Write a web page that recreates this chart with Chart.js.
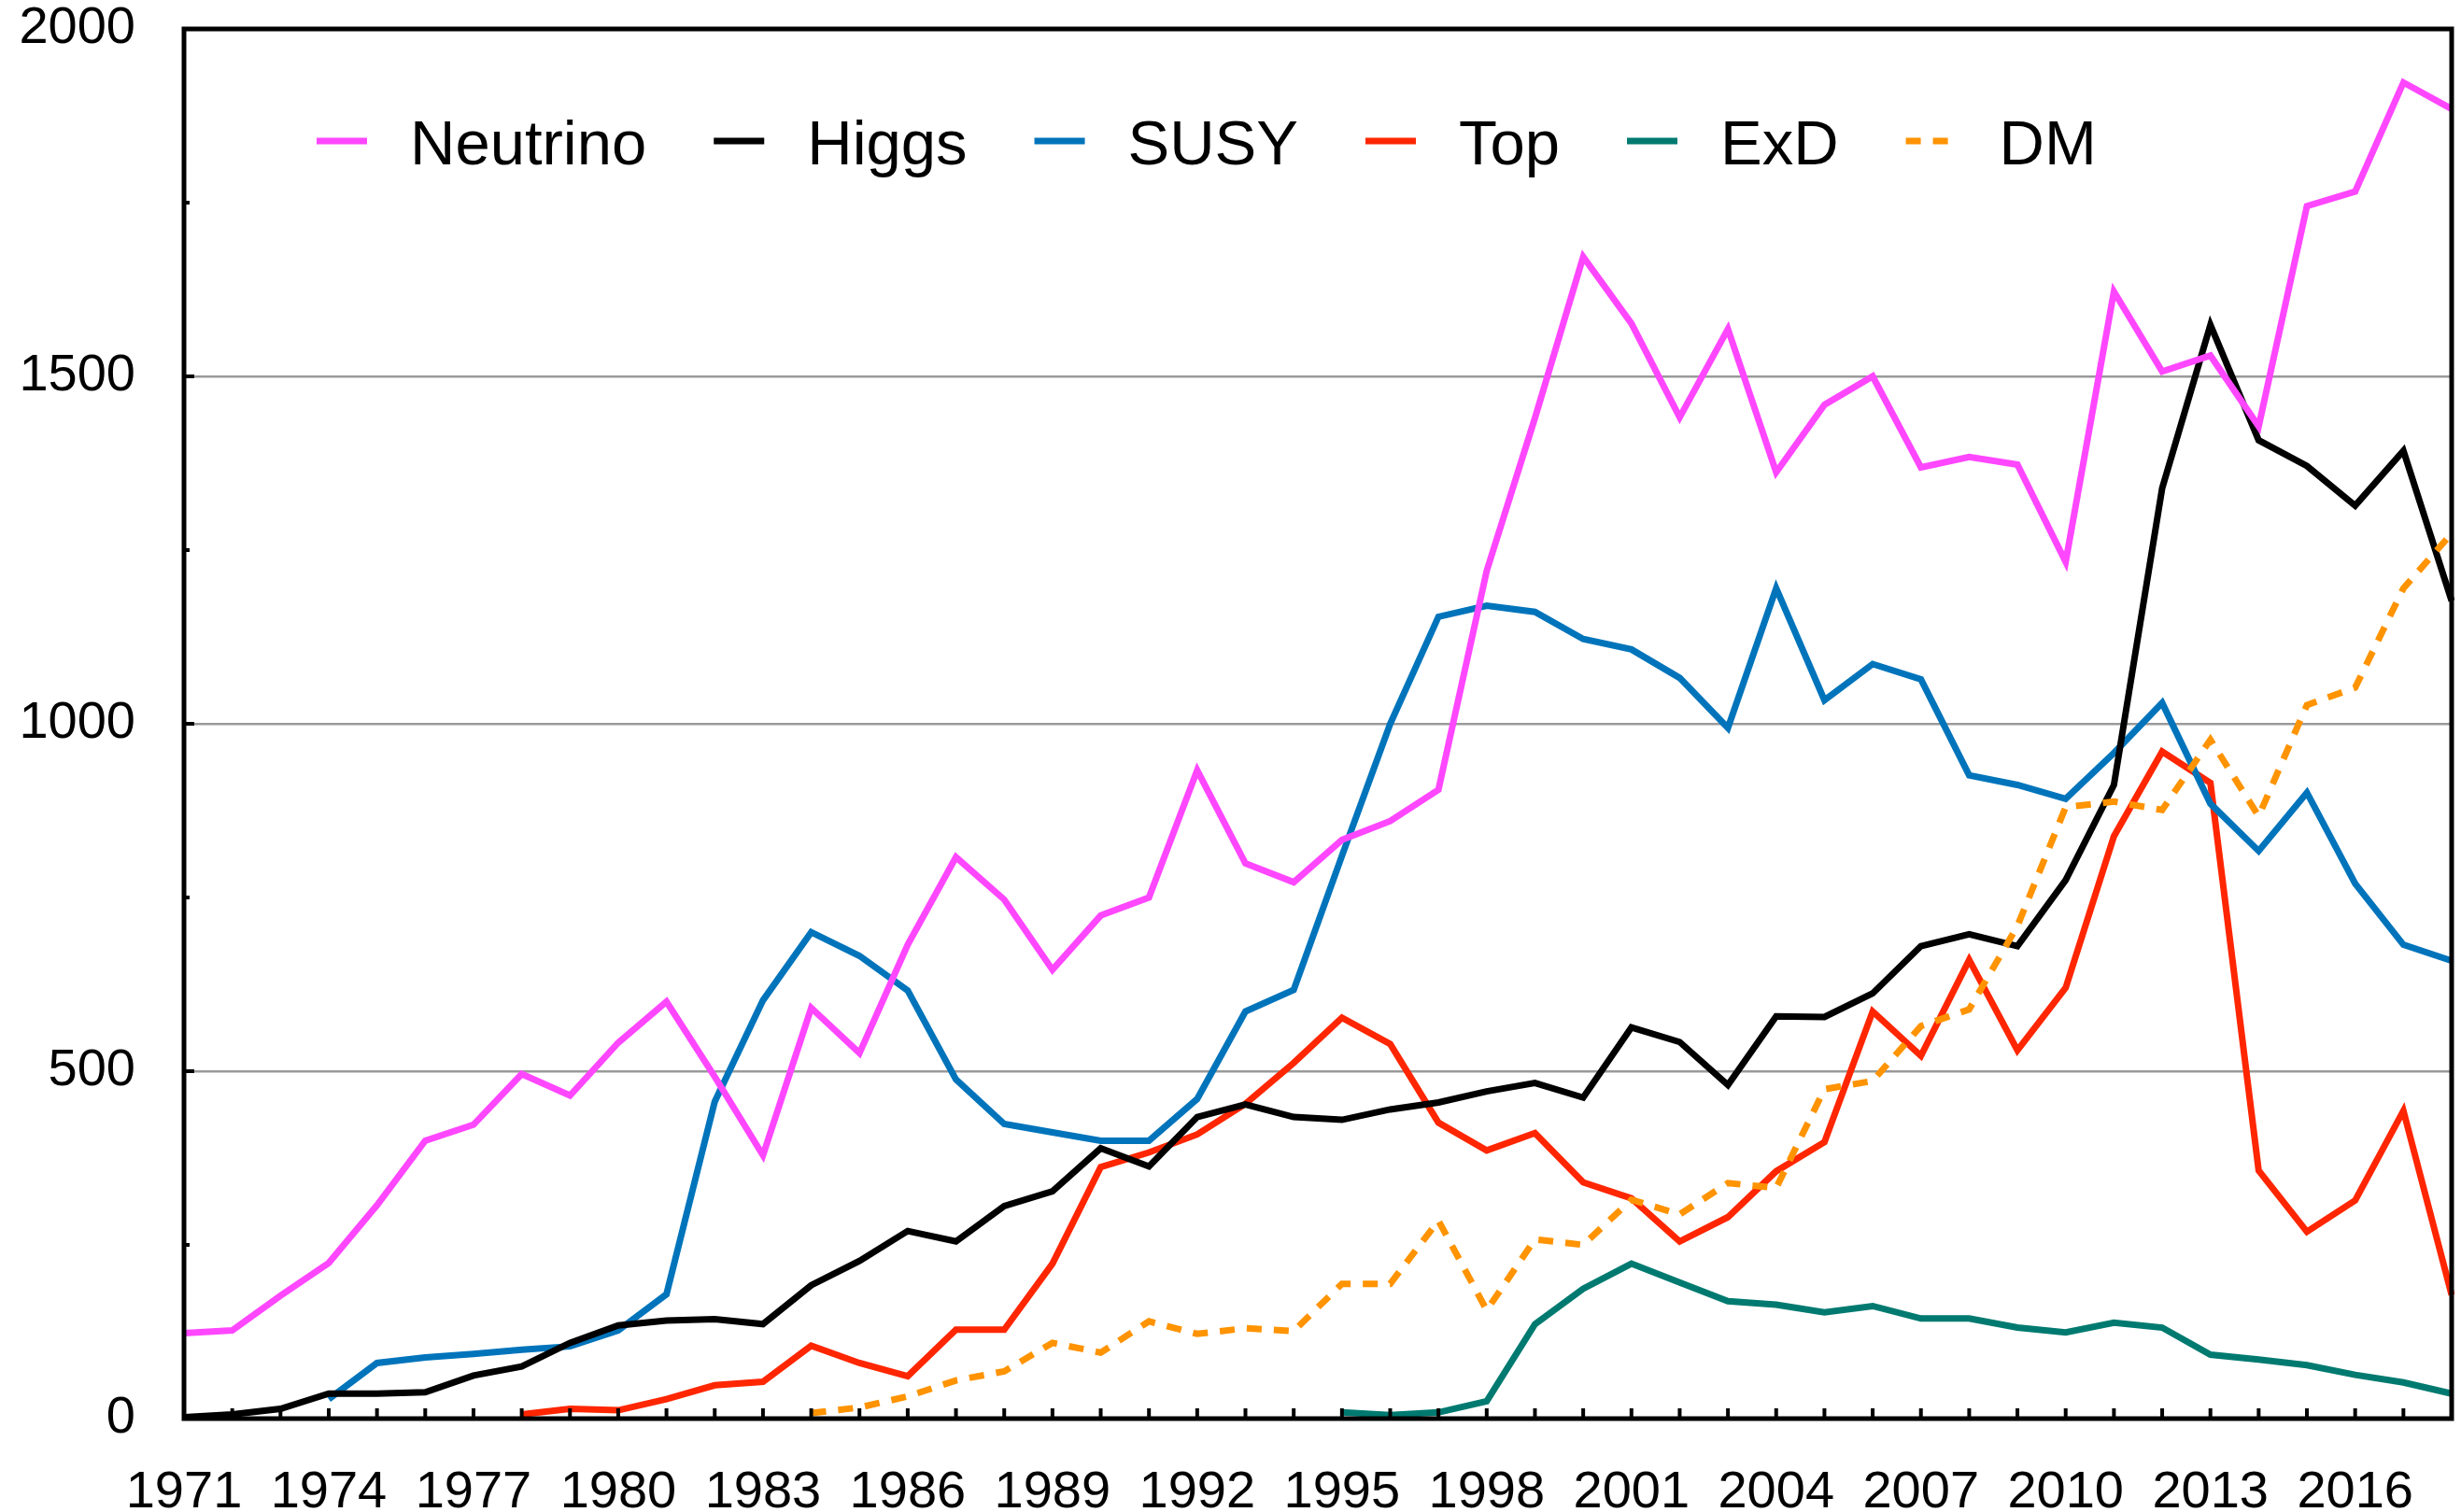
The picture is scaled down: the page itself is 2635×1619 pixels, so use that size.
<!DOCTYPE html>
<html lang="en">
<head>
  <meta charset="UTF-8">
  <title>Papers per year</title>
  <script src="https://cdn.jsdelivr.net/npm/chart.js"></script>
  <style>
    body { margin: 0; background: #fff; }
    canvas { display: block; }
  </style>
</head>
<body>
  <canvas id="chart" width="2635" height="1619"></canvas>
  <script>
    const years = [];
    for (let y = 1971; y <= 2018; y++) years.push(String(y));

    const neutrino = [123, 127, 177, 224, 307, 400, 423, 496, 465, 541,
      600, 492, 379, 591, 526, 682, 808, 747, 646, 724,
      750, 933, 799, 772, 833, 860, 905, 1220, 1440, 1672,
      1576, 1441, 1568, 1362, 1459, 1500, 1369, 1384, 1373, 1233,
      1622, 1507, 1530, 1428, 1745, 1766, 1923, 1885];
    const higgs = [2, 6, 14, 36, 36, 38, 62, 75, 109, 134,
      141, 143, 136, 192, 227, 270, 255, 306, 327, 389,
      363, 434, 452, 434, 430, 445, 455, 471, 483, 462,
      563, 542, 480, 579, 578, 612, 680, 697, 680, 775,
      912, 1339, 1574, 1408, 1371, 1314, 1393, 1177];
    const susy = [null, null, null, 28, 80, 88, 93, 99, 104, 127,
      179, 456, 602, 700, 666, 616, 488, 424, 412, 400,
      400, 460, 586, 617, 810, 1000, 1154, 1170, 1161, 1122,
      1107, 1066, 994, 1195, 1034, 1086, 1064, 926, 912, 892,
      958, 1030, 885, 817, 901, 770, 682, 659];
    const topQuark = [null, null, null, null, null, null, null, 6, 14, 12,
      28, 48, 53, 105, 80, 61, 128, 128, 223, 362,
      383, 409, 453, 512, 577, 539, 426, 386, 411, 340,
      317, 255, 290, 356, 398, 586, 522, 660, 530, 620,
      838, 960, 915, 357, 269, 314, 443, 178];
    const exd = [null, null, null, null, null, null, null, null, null, null,
      null, null, null, null, null, null, null, null, null, null,
      null, null, null, null, 9, 5, 9, 25, 136, 187,
      223, 196, 169, 164, 153, 162, 144, 144, 131, 124,
      138, 131, 92, 85, 77, 63, 52, 36];
    const dm = [null, null, null, null, null, null, null, null, null, null,
      null, null, null, 8, 16, 32, 55, 68, 109, 95,
      140, 122, 130, 126, 194, 194, 285, 156, 258, 250,
      315, 294, 339, 332, 474, 486, 565, 589, 709, 880,
      888, 876, 977, 867, 1027, 1052, 1195, 1274];

    const FONT = '"Liberation Sans", Arial, sans-serif';

    const series = [
      { label: 'Neutrino', data: neutrino, color: '#ff47ff', dash: [] },
      { label: 'Higgs', data: higgs, color: '#000000', dash: [] },
      { label: 'SUSY', data: susy, color: '#0074bb', dash: [] },
      { label: 'Top', data: topQuark, color: '#ff2600', dash: [] },
      { label: 'ExD', data: exd, color: '#007a70', dash: [] },
      { label: 'DM', data: dm, color: '#ff9300', dash: [16, 13] }
    ];
    const drawOrder = [1, 2, 3, 4, 5, 0];

    // frame, inward ticks and the legend row
    const framePlugin = {
      id: 'frame',
      afterDatasetsDraw(chart) {
        const { ctx, chartArea: a, scales } = chart;
        ctx.save();
        ctx.strokeStyle = '#000';
        ctx.lineWidth = 4;
        years.forEach((y, i) => {
          const x = scales.x.getPixelForValue(i);
          ctx.beginPath();
          ctx.moveTo(x, a.bottom);
          ctx.lineTo(x, a.bottom - 11);
          ctx.stroke();
        });
        for (let v = 0; v <= 2000; v += 250) {
          const y = scales.y.getPixelForValue(v);
          ctx.beginPath();
          ctx.moveTo(a.left, y);
          ctx.lineTo(a.left + (v % 500 === 0 ? 11 : 6), y);
          ctx.stroke();
        }
        ctx.lineWidth = 5;
        ctx.strokeRect(a.left, a.top, a.right - a.left, a.bottom - a.top);

        ctx.font = '67px ' + FONT;
        ctx.textBaseline = 'alphabetic';
        let x = a.left + 142;
        const ly = a.top + 120;
        series.forEach(s => {
          ctx.strokeStyle = s.color;
          ctx.lineWidth = 7;
          ctx.setLineDash(s.dash);
          ctx.beginPath();
          ctx.moveTo(x, ly);
          ctx.lineTo(x + 54, ly);
          ctx.stroke();
          ctx.setLineDash([]);
          ctx.fillStyle = '#000';
          ctx.fillText(s.label, x + 100, ly + 25);
          x += 100 + ctx.measureText(s.label).width + 72;
        });
        ctx.restore();
      }
    };

    // keep the plot box fixed: drop the room Chart.js reserves for edge labels
    function noEdgePadding(s) {
      s.paddingTop = 0;
      s.paddingBottom = 0;
      s.paddingLeft = 0;
      s.paddingRight = 0;
    }

    new Chart(document.getElementById('chart'), {
      type: 'line',
      data: {
        labels: years,
        datasets: series.map((s, i) => ({
          label: s.label,
          data: s.data,
          borderColor: s.color,
          borderWidth: 7,
          borderDash: s.dash,
          borderJoinStyle: 'miter',
          pointRadius: 0,
          fill: false,
          tension: 0,
          order: drawOrder[i]
        }))
      },
      options: {
        responsive: false,
        animation: false,
        devicePixelRatio: 1,
        layout: { padding: { top: 31, right: 10, left: 0, bottom: 0 } },
        plugins: { legend: { display: false }, tooltip: { enabled: false } },
        scales: {
          x: {
            offset: false,
            grid: { display: false, drawTicks: false },
            border: { display: false },
            ticks: {
              autoSkip: false,
              maxRotation: 0,
              padding: 46,
              color: '#000',
              font: { family: FONT, size: 56 },
              callback: (v, i) => (i % 3 === 0 ? years[i] : '')
            },
            afterFit: s => { s.height = 100; noEdgePadding(s); }
          },
          y: {
            min: 0,
            max: 2000,
            grid: {
              drawTicks: false,
              lineWidth: 2.5,
              color: c => (c.tick && c.tick.value > 0 && c.tick.value < 2000 ? '#9a9a9a' : 'rgba(0,0,0,0)')
            },
            border: { display: false },
            ticks: {
              stepSize: 500,
              padding: 52,
              color: '#000',
              font: { family: FONT, size: 56 },
              callback: v => String(v)
            },
            afterFit: s => { s.width = 197; noEdgePadding(s); }
          }
        }
      },
      plugins: [framePlugin]
    });
  </script>
</body>
</html>
